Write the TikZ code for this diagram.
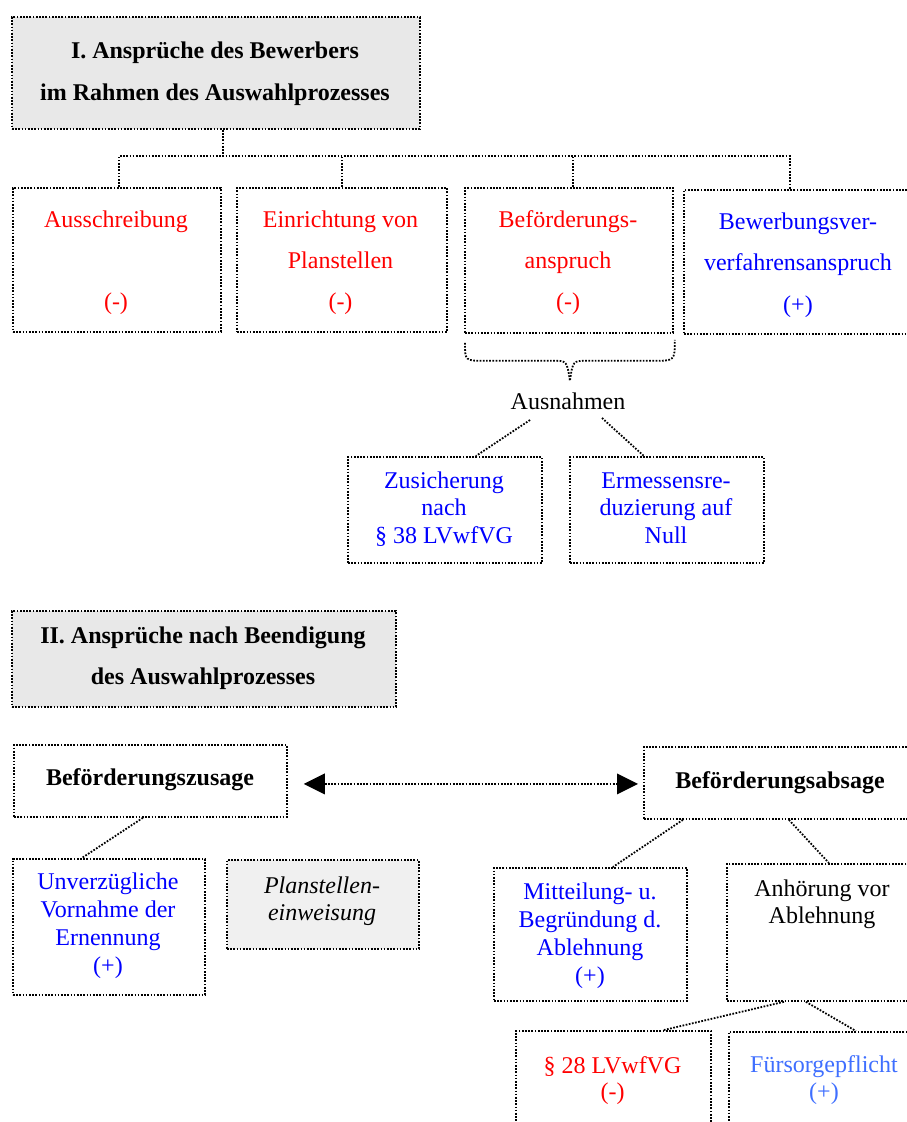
\documentclass[tikz,border=0pt]{standalone}
\usepackage{fontspec}
\setmainfont{Liberation Serif}
\usetikzlibrary{calc,arrows.meta}

\definecolor{negred}{HTML}{FF0000}
\definecolor{posblue}{HTML}{0000FF}
\definecolor{softblue}{HTML}{3F6FFF}
\definecolor{hdrgray}{HTML}{E8E8E8}
\definecolor{palegray}{HTML}{F0F0F0}

\tikzset{
  dotline/.style={line width=1.8pt, dash pattern=on 1.7pt off 1.5pt},
  box/.style={dotline, draw, rectangle, inner sep=0pt, anchor=north west},
  % text nodes are placed by the baseline of their last line
  txt/.style={inner sep=0pt, anchor=base, align=center},
  wide/.style={font=\fontsize{24}{41}\selectfont},
  tight/.style={font=\fontsize{24}{27.7}\selectfont},
  headtxt/.style={font=\fontsize{24}{42}\selectfont\bfseries},
  bigtri/.tip={Triangle[length=21pt,width=21pt,line width=0pt]}
}

\begin{document}
\begin{tikzpicture}[x=1pt,y=-1pt]
\path[use as bounding box, fill=white] (0,0) rectangle (907,1122);

% ---------- Part I ----------
\node[box, fill=hdrgray, minimum width=408pt, minimum height=112pt] (h1) at (11,16) {};
\node[txt, headtxt] (h1t) at (215,100) {I. Ansprüche des Bewerbers\\im Rahmen des Auswahlprozesses};

\node[box, minimum width=208pt, minimum height=144pt] (aus) at (12,187) {};
\node[box, minimum width=210pt, minimum height=144pt] (ein) at (236,187) {};
\node[box, minimum width=208pt, minimum height=145pt] (bef) at (464,187) {};
\node[box, minimum width=230pt, minimum height=144pt] (bew) at (683,189) {};

\node[txt, wide, text=negred] (aust) at (116,309) {Ausschreibung\\[41pt](-)};
\node[txt, wide, text=negred] (eint) at (340.5,309) {Einrichtung von\\Planstellen\\(-)};
\node[txt, wide, text=negred] (beft) at (568,309) {Beförderungs-\\anspruch\\(-)};
\node[txt, font=\fontsize{24}{41.5}\selectfont, text=posblue] (bewt) at (798,312) {Bewerbungsver-\\verfahrensanspruch\\(+)};

% tree bus below the first heading
\coordinate (bus) at (223,156);
\coordinate (ausdrop) at ($(aus.north)+(2,0)$);
\coordinate (befdrop) at ($(bef.north)+(4,0)$);
\coordinate (bewdrop) at ($(bew.north)+(-9,0)$);
\draw[dotline] (h1.south -| bus) -- (bus);
\draw[dotline] (ausdrop) |- (bus) -| (bewdrop);
\draw[dotline] (ein.north) -- (ein.north |- bus);
\draw[dotline] (befdrop) -- (befdrop |- bus);

% curly brace under the promotion claim
\draw[dotline] ($(bef.south west)+(1,9)$)
  .. controls ($(bef.south west)+(1,27)$) .. ($(bef.south west)+(21,27)$)
  -- ($(bef.south)+(-16,27)$)
  .. controls ($(bef.south)+(-2,27)$) .. ($(bef.south)+(1,47)$)
  .. controls ($(bef.south)+(4,27)$) .. ($(bef.south)+(18,27)$)
  -- ($(bef.south east)+(-21,27)$)
  .. controls ($(bef.south east)+(1,27)$) .. ($(bef.south east)+(1,6)$);

\node[txt, font=\fontsize{24}{27}\selectfont] (ausn) at (568,409) {Ausnahmen};

\node[box, minimum width=194pt, minimum height=106pt] (zus) at (347,456) {};
\node[box, minimum width=194pt, minimum height=106pt] (erm) at (569,456) {};
\node[txt, font=\fontsize{24}{27.5}\selectfont, text=posblue] (zust) at (444,543) {Zusicherung\\nach\\§ 38 LVwfVG};
\node[txt, font=\fontsize{24}{27.5}\selectfont, text=posblue] (ermt) at (666,543) {Ermessensre-\\duzierung auf\\Null};

\draw[dotline] ($(ausn.base)+(-38,11)$) -- ($(zus.north)+(31,0)$);
\draw[dotline] ($(ausn.base)+(34,9)$) -- ($(erm.north)+(-23,0)$);

% ---------- Part II ----------
\node[box, fill=hdrgray, minimum width=384pt, minimum height=96pt] (h2) at (11,610) {};
\node[txt, font=\fontsize{24}{41}\selectfont\bfseries] (h2t) at (203,684) {II. Ansprüche nach Beendigung\\des Auswahlprozesses};

\node[box, minimum width=273pt, minimum height=72pt] (zsg) at (13,744) {};
\node[txt, font=\fontsize{24}{27}\selectfont\bfseries] (zsgt) at (150,785) {Beförderungszusage};
\node[box, minimum width=273pt, minimum height=72pt] (abs) at (643,746) {};
\node[txt, font=\fontsize{24}{27}\selectfont\bfseries] (abst) at (780,788) {Beförderungsabsage};

\draw[dotline, bigtri-bigtri] ($(zsg.east)+(16,3)$) -- ($(abs.west)+(-5,1)$);

\node[box, minimum width=192pt, minimum height=136pt] (unv) at (12,858) {};
\node[txt, tight, text=posblue] (unvt) at (108,973) {Unverzügliche\\Vornahme der\\Ernennung\\(+)};
\node[box, fill=palegray, minimum width=192pt, minimum height=89pt] (pla) at (226,859) {};
\node[txt, font=\fontsize{24}{27}\selectfont\itshape] (plat) at (322,920) {Planstellen-\\einweisung};
\draw[dotline] ($(zsg.south)+(-7.5,0)$) -- ($(unv.north)+(-27,0)$);

\node[box, minimum width=193pt, minimum height=133pt] (mit) at (493,867) {};
\node[txt, tight, text=posblue] (mitt) at (590,983) {Mitteilung- u.\\Begründung d.\\Ablehnung\\(+)};
\node[box, minimum width=194pt, minimum height=137pt] (anh) at (726,863) {};
\node[txt, font=\fontsize{24}{27}\selectfont] (anht) at (822,923) {Anhörung vor\\Ablehnung};
\draw[dotline] ($(abs.south)+(-97.5,0)$) -- ($(mit.north)+(22.5,0)$);
\draw[dotline] ($(abs.south)+(8.5,0)$) -- ($(anh.north)+(5,0)$);

\node[box, minimum width=195pt, minimum height=120pt] (par) at (515,1030) {};
\node[txt, font=\fontsize{24}{26}\selectfont, text=negred] (part) at (612.5,1099) {§ 28 LVwfVG\\(-)};
\node[box, minimum width=194pt, minimum height=120pt] (fur) at (728,1031) {};
\node[txt, font=\fontsize{24}{27}\selectfont, text=softblue] (furt) at (824,1099) {Fürsorgepflicht\\(+)};
\draw[dotline] ($(anh.south)+(-40,0)$) -- ($(par.north)+(50.5,0)$);
\draw[dotline] ($(anh.south)+(-18,0)$) -- ($(fur.north)+(30,0)$);
\end{tikzpicture}
\end{document}
